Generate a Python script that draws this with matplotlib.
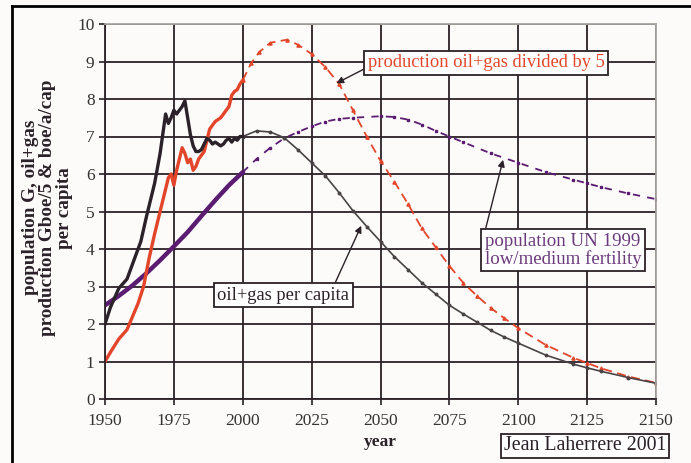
import matplotlib
matplotlib.use("Agg")
import matplotlib.pyplot as plt
from matplotlib.lines import Line2D

# ---- data ----
pc_hist_years = [1950, 1952, 1955, 1958, 1960, 1963, 1965, 1968, 1970, 1972, 1973, 1974, 1975,
                 1976, 1977, 1978, 1979, 1980, 1981, 1982, 1983, 1984, 1985, 1986, 1987, 1988,
                 1989, 1990, 1991, 1992, 1993, 1994, 1995, 1996, 1997, 1998, 1999, 2000]
pc_hist_vals = [2.0, 2.45, 2.95, 3.2, 3.6, 4.2, 4.85, 5.75, 6.55, 7.6, 7.35, 7.5, 7.7,
                7.6, 7.7, 7.8, 7.95, 7.5, 7.05, 6.75, 6.6, 6.6, 6.65, 6.8, 6.95, 6.9,
                6.8, 6.85, 6.8, 6.75, 6.8, 6.9, 6.95, 6.85, 6.95, 6.9, 7.0, 7.0]
pc_fc_years = [2000, 2005, 2010, 2015, 2020, 2025, 2030, 2035, 2040, 2045, 2050, 2055, 2060,
               2065, 2070, 2075, 2080, 2085, 2090, 2095, 2100, 2110, 2120, 2125, 2130, 2140, 2150]
pc_fc_vals = [7.0, 7.15, 7.12, 6.97, 6.65, 6.3, 5.95, 5.5, 5.02, 4.6, 4.2, 3.8, 3.45,
              3.1, 2.8, 2.5, 2.27, 2.05, 1.83, 1.65, 1.49, 1.17, 0.93, 0.83, 0.74, 0.57, 0.42]

prod_hist_years = [1950, 1952, 1955, 1958, 1960, 1962, 1964, 1966, 1968, 1970, 1972, 1973, 1974,
                   1975, 1976, 1977, 1978, 1979, 1980, 1981, 1982, 1983, 1984, 1985, 1986, 1987,
                   1988, 1989, 1990, 1991, 1992, 1993, 1994, 1995, 1996, 1997, 1998, 1999, 2000]
prod_hist_vals = [1.0, 1.25, 1.6, 1.85, 2.2, 2.55, 3.0, 3.75, 4.4, 5.0, 5.6, 5.9, 6.0,
                  5.7, 6.1, 6.4, 6.7, 6.55, 6.3, 6.4, 6.1, 6.2, 6.4, 6.5, 6.6, 6.9,
                  7.2, 7.3, 7.4, 7.45, 7.5, 7.6, 7.7, 7.8, 8.1, 8.2, 8.25, 8.4, 8.5]
prod_fc_years = [2000, 2003, 2006, 2010, 2016, 2020, 2025, 2030, 2035, 2040, 2045, 2050, 2055,
                 2060, 2065, 2070, 2075, 2080, 2085, 2090, 2095, 2100, 2110, 2120, 2125, 2130,
                 2140, 2150]
prod_fc_vals = [8.5, 8.95, 9.25, 9.5, 9.58, 9.45, 9.2, 8.85, 8.4, 7.7, 7.0, 6.35, 5.8,
                5.2, 4.55, 4.05, 3.55, 3.1, 2.75, 2.43, 2.15, 1.89, 1.44, 1.1, 0.96, 0.82,
                0.6, 0.43]

pop_hist_years = [1950, 1955, 1960, 1965, 1970, 1975, 1980, 1985, 1990, 1995, 2000]
pop_hist_vals = [2.5, 2.75, 3.03, 3.35, 3.7, 4.07, 4.45, 4.88, 5.3, 5.7, 6.05]
pop_fc_years = [2000, 2005, 2010, 2015, 2020, 2025, 2030, 2035, 2040, 2050, 2055, 2060, 2065,
                2070, 2075, 2080, 2090, 2100, 2110, 2120, 2125, 2130, 2140, 2150]
pop_fc_vals = [6.05, 6.4, 6.7, 6.95, 7.12, 7.27, 7.4, 7.47, 7.5, 7.54, 7.52, 7.45, 7.32,
               7.15, 7.0, 6.85, 6.55, 6.3, 6.05, 5.85, 5.75, 5.65, 5.48, 5.33]

x_ticks = [1950, 1975, 2000, 2025, 2050, 2075, 2100, 2125, 2150]
y_ticks = list(range(0, 11))

# ---- styling ----
plt.rcParams['font.family'] = ['Liberation Serif', 'DejaVu Serif']
BG = '#fcfbfa'
DARK = '#2b2128'
RED = '#e2452a'
PURPLE = '#5b1b70'

fig = plt.figure(figsize=(6.91, 4.63), dpi=100, facecolor=BG)
ax = fig.add_axes([105/691, 1 - 399/463, 551/691, 375/463])
ax.set_facecolor(BG)

ax.set_xlim(1950, 2150)
ax.set_ylim(0, 10)
ax.set_xticks(x_ticks)
ax.set_yticks(y_ticks)
ax.grid(True, color=DARK, lw=1.3)
ax.set_axisbelow(True)
ax.tick_params(axis='both', colors=DARK, labelcolor='#333', labelsize=12.5,
               length=4, width=1.2, direction='out')
ax.tick_params(axis='x', pad=6)
for s in ['left', 'bottom']:
    ax.spines[s].set_color(DARK)
    ax.spines[s].set_linewidth(1.3)
for s in ['top', 'right']:
    ax.spines[s].set_color('#aaa49f')
    ax.spines[s].set_linewidth(1.3)

# forecasts
ax.plot(pop_fc_years, pop_fc_vals, color=PURPLE, lw=1.3, ls=(0, (4, 4)),
        marker='s', ms=2.0)
ax.plot(prod_fc_years, prod_fc_vals, color=RED, lw=1.3, ls=(0, (5, 3)),
        marker='^', ms=2.3)
ax.plot(pc_fc_years, pc_fc_vals, color='#4a4346', lw=1.2, marker='o', ms=1.8)

# history
ax.plot(pop_hist_years, pop_hist_vals, color=PURPLE, lw=3.2, solid_capstyle='round')
ax.plot(prod_hist_years, prod_hist_vals, color=RED, lw=2.4)
ax.plot(pc_hist_years, pc_hist_vals, color=DARK, lw=2.4)

box = dict(boxstyle='square,pad=0.2', fc='white', ec=DARK, lw=1.3)


def arrow(rel):
    return dict(arrowstyle='-|>', color=DARK, lw=1.0, mutation_scale=10,
                shrinkA=0, shrinkB=0, relpos=rel)


ax.annotate('production oil+gas divided by 5', xy=(2034, 8.42), xytext=(2045.3, 8.96),
            color=RED, fontsize=13.3, ha='left', va='center', bbox=box,
            arrowprops=arrow((0.0, 0.25)))
ax.annotate('population UN 1999\nlow/medium fertility', xy=(2094.5, 6.38), xytext=(2087.8, 3.97),
            color='#6a3a7c', fontsize=13.6, ha='left', va='center', bbox=box,
            arrowprops=arrow((0.0, 1.0)), linespacing=1.02)
ax.annotate('oil+gas per capita', xy=(2043, 4.62), xytext=(1990.8, 2.77),
            color=DARK, fontsize=13.3, ha='left', va='center', bbox=box,
            arrowprops=arrow((0.88, 1.0)))

ax.set_xlabel('year', fontsize=12.5, fontweight='bold', color=DARK, labelpad=4)
ax.set_ylabel('population G, oil+gas\nproduction Gboe/5 & boe/a/cap\nper capita',
              fontsize=13.8, fontweight='bold', color=DARK, linespacing=1.0,
              multialignment='center')
ax.yaxis.set_label_coords(-0.058, 0.51)

fig.text(504/691, 1 - 446/463, 'Jean Laherrere 2001', fontsize=14.3, color=DARK,
         ha='left', va='center',
         bbox=dict(boxstyle='square,pad=0.15', fc='white', ec=DARK, lw=1.3))

# outer frame
fig.add_artist(Line2D([12/691, 12/691], [0, 1 - 6/463], color='black', lw=2,
                      transform=fig.transFigure))
fig.add_artist(Line2D([12/691, 1], [1 - 6/463, 1 - 6/463], color='black', lw=2,
                      transform=fig.transFigure))

fig.savefig('out.png', dpi=100, facecolor=BG)
